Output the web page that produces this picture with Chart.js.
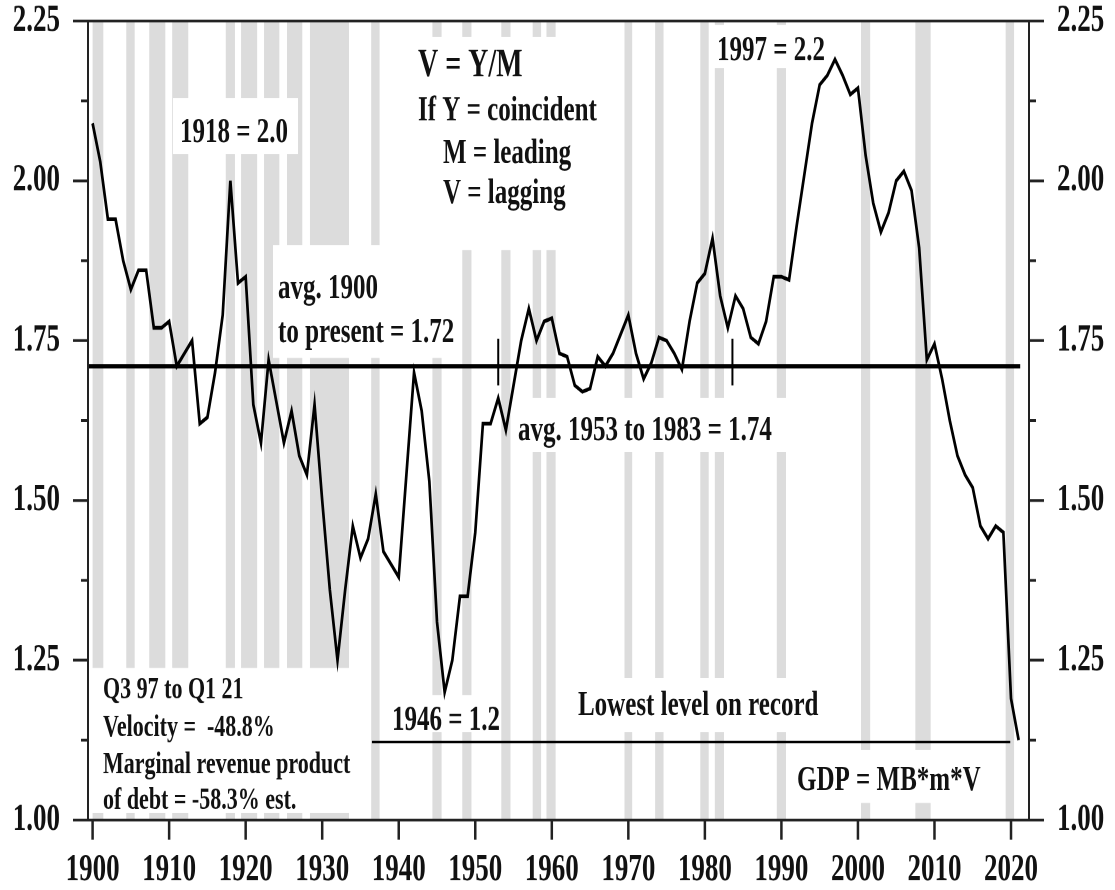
<!DOCTYPE html>
<html>
<head>
<meta charset="utf-8">
<script src="https://cdn.jsdelivr.net/npm/chart.js@4.4.1/dist/chart.umd.min.js"></script>
<style>
html, body { margin: 0; padding: 0; background: #fff; }
body { width: 1115px; height: 890px; overflow: hidden; }
#wrap { width: 1115px; height: 636px; transform-origin: 0 0; transform: scaleY(1.39937); }
</style>
</head>
<body>
<div id="wrap"><canvas id="mycanvas" width="1115" height="636"></canvas></div>
<script>
// velocity of money, annual, 1900 - 2021
var firstYear = 1900;
var velocity = [
	2.09, 2.03, 1.94, 1.94, 1.875, 1.83, 1.86, 1.86, 1.77, 1.77,
	1.78, 1.71, 1.73, 1.75, 1.62, 1.63, 1.70, 1.79, 2.00, 1.84,
	1.85, 1.65, 1.59, 1.72, 1.655, 1.59, 1.64, 1.57, 1.54, 1.65,
	1.50, 1.36, 1.25, 1.36, 1.46, 1.41, 1.44, 1.51, 1.42, 1.40,
	1.38, 1.54, 1.70, 1.64, 1.53, 1.31, 1.20, 1.25, 1.35, 1.35,
	1.45, 1.62, 1.62, 1.66, 1.61, 1.68, 1.75, 1.80, 1.75, 1.78,
	1.785, 1.73, 1.725, 1.68, 1.67, 1.675, 1.725, 1.71, 1.73, 1.76,
	1.79, 1.73, 1.69, 1.715, 1.755, 1.75, 1.73, 1.705, 1.78, 1.84,
	1.855, 1.91, 1.82, 1.77, 1.82, 1.80, 1.755, 1.745, 1.78, 1.85,
	1.85, 1.845, 1.93, 2.01, 2.09, 2.15, 2.165, 2.19, 2.165, 2.135,
	2.145, 2.04, 1.965, 1.92, 1.95, 2.00, 2.015, 1.985, 1.895, 1.72,
	1.745, 1.69, 1.625, 1.57, 1.54, 1.52, 1.46, 1.44, 1.46, 1.45,
	1.19, 1.125
];

// recession shading (start / end in years)
var recStart = [1900.0, 1904.4, 1907.4, 1910.4, 1917.4, 1919.4, 1922.4, 1925.4, 1928.4, 1936.4, 1944.4, 1948.3,
	1953.4, 1957.5, 1959.3, 1969.5, 1973.5, 1979.4, 1981.3, 1989.4, 2000.4, 2007.5, 2019.3];
var recEnd = [1901.4, 1905.5, 1909.5, 1912.5, 1918.6, 1921.5, 1924.4, 1927.4, 1933.5, 1937.5, 1945.6, 1949.5,
	1954.6, 1958.6, 1960.5, 1970.5, 1974.6, 1980.5, 1982.5, 1990.6, 2001.6, 2009.5, 2020.4];

// reference lines
var avgValue = 1.71, avgFrom = 1899.4, avgTo = 2021.2;
var lowValue = 1.122, lowFrom = 1936.5, lowTo = 2019.9;
var markYears = [1953, 1983.6];
var markLow = 1.68, markHigh = 1.753;

// axes
var xTicks = [1900, 1910, 1920, 1930, 1940, 1950, 1960, 1970, 1980, 1990, 2000, 2010, 2020];
var yTicks = [1.0, 1.125, 1.25, 1.375, 1.5, 1.625, 1.75, 1.875, 2.0, 2.125, 2.25];
var yLabels = [1.0, 1.25, 1.5, 1.75, 2.0, 2.25];

var SY = 890 / 636;   // page is stretched vertically like the original
var serif = '"Liberation Serif", "Times New Roman", serif';

// text boxes: [x0, y0, x1, y1] in page pixels
var boxes = [
	[173, 98, 298, 154],
	[405, 37, 605, 250],
	[273, 245, 458, 358],
	[513, 398, 790, 452],
	[712, 25, 830, 68],
	[570, 678, 826, 732],
	[386, 695, 500, 732],
	[790, 750, 990, 803],
	[89, 668, 355, 813]
];
// text: [string, x, baseline, size]
var notes = [
	["1918 = 2.0", 180, 142, 25],
	["V = Y/M", 418, 76, 28],
	["If Y = coincident", 418, 120, 25],
	["M = leading", 443, 163, 25],
	["V = lagging", 443, 203, 25],
	["avg. 1900", 278, 298, 25],
	["to present = 1.72", 278, 342, 25],
	["avg. 1953 to 1983 = 1.74", 518, 440, 25],
	["1997 = 2.2", 717, 60, 25],
	["Lowest level on record", 578, 715, 25],
	["1946 = 1.2", 392, 730, 25],
	["GDP = MB*m*V", 797, 790, 25],
	["Q3 97 to Q1 21", 103, 698, 22],
	["Velocity =  -48.8%", 103, 736, 22],
	["Marginal revenue product", 103, 773, 22],
	["of debt = -58.3% est.", 103, 809, 22]
];

var points = velocity.map(function(v, i){ return {x: firstYear + i, y: v}; });

function flat(val, a, b){ return [{x: a, y: val}, {x: b, y: val}]; }

var datasets = [
	{ data: points, borderColor: "#000", borderWidth: 2.7, pointRadius: 0, tension: 0 },
	{ data: flat(avgValue, avgFrom, avgTo), borderColor: "#000", borderWidth: 3.2, pointRadius: 0 },
	{ data: flat(lowValue, lowFrom, lowTo), borderColor: "#000", borderWidth: 1.8, pointRadius: 0 }
];
markYears.forEach(function(yr){
	datasets.push({ data: [{x: yr, y: markLow}, {x: yr, y: markHigh}], borderColor: "#000", borderWidth: 2, pointRadius: 0 });
});

var backdrop = {
	id: "backdrop",
	beforeDatasetsDraw: function(chart){
		var ctx = chart.ctx, a = chart.chartArea, xs = chart.scales.x;
		ctx.save();
		ctx.fillStyle = "#dcdcdc";
		for (var i = 0; i < recStart.length; i++) {
			var x0 = Math.max(xs.getPixelForValue(recStart[i]), a.left);
			var x1 = xs.getPixelForValue(recEnd[i]);
			ctx.fillRect(x0, a.top, x1 - x0, a.bottom - a.top);
		}
		ctx.fillStyle = "#fff";
		boxes.forEach(function(b){
			ctx.fillRect(b[0], b[1] / SY, b[2] - b[0], (b[3] - b[1]) / SY);
		});
		ctx.restore();
	},
	afterDatasetsDraw: function(chart){
		var ctx = chart.ctx, a = chart.chartArea;
		var xs = chart.scales.x, ys = chart.scales.y;
		ctx.save();
		ctx.fillStyle = "#111";
		ctx.textAlign = "left";
		ctx.textBaseline = "alphabetic";
		notes.forEach(function(n){
			ctx.font = "bold " + n[3] + "px " + serif;
			ctx.fillText(n[0], n[1], n[2] / SY);
		});

		// frame
		ctx.strokeStyle = "#222";
		ctx.lineWidth = 2;
		ctx.strokeRect(a.left, a.top, a.right - a.left, a.bottom - a.top);

		// tick marks
		ctx.beginPath();
		yTicks.forEach(function(v){
			var y = ys.getPixelForValue(v);
			var len = yLabels.indexOf(v) >= 0 ? 15 : 7;
			ctx.moveTo(a.left - len, y); ctx.lineTo(a.left, y);
			ctx.moveTo(a.right, y); ctx.lineTo(a.right + len, y);
		});
		ctx.stroke();
		ctx.lineWidth = 2.5;
		ctx.beginPath();
		xTicks.forEach(function(v){
			var x = xs.getPixelForValue(v);
			ctx.moveTo(x, a.bottom); ctx.lineTo(x, a.bottom + 14);
		});
		ctx.stroke();
		ctx.restore();
	}
};

var tickFont = { family: serif, size: 27, weight: "bold" };

function yLabel(v){
	return yLabels.indexOf(v) >= 0 ? v.toFixed(2) : "";
}

function noPad(s){
	s.paddingTop = 0; s.paddingBottom = 0; s.paddingLeft = 0; s.paddingRight = 0;
}

function yAxis(pos, w){
	return {
		type: "linear",
		position: pos,
		min: 1.0,
		max: 2.25,
		grid: { display: false, drawTicks: false },
		border: { display: false },
		afterBuildTicks: function(s){ s.ticks = yTicks.map(function(v){ return {value: v}; }); },
		afterFit: function(s){ s.width = w; noPad(s); },
		ticks: { autoSkip: false, padding: 28, color: "#111", font: tickFont, callback: yLabel }
	};
}

var ctx = document.getElementById("mycanvas");

var chart = new Chart(ctx, {
	type: "line",
	data: { datasets: datasets },
	options: {
		responsive: false,
		animation: false,
		devicePixelRatio: 2,
		layout: { padding: { top: 15, left: 0, right: 0, bottom: 0 } },
		plugins: { legend: { display: false }, tooltip: { enabled: false } },
		scales: {
			x: {
				type: "linear",
				min: 1899.4,
				max: 2022.35,
				grid: { display: false, drawTicks: false },
				border: { display: false },
				afterBuildTicks: function(s){ s.ticks = xTicks.map(function(v){ return {value: v}; }); },
				afterFit: function(s){ s.height = 50; noPad(s); },
				ticks: { autoSkip: false, maxRotation: 0, padding: 20, color: "#111", font: tickFont,
					callback: function(v){ return String(v); } }
			},
			y: yAxis("left", 88),
			y2: yAxis("right", 86)
		}
	},
	plugins: [backdrop]
});
</script>
</body>
</html>
